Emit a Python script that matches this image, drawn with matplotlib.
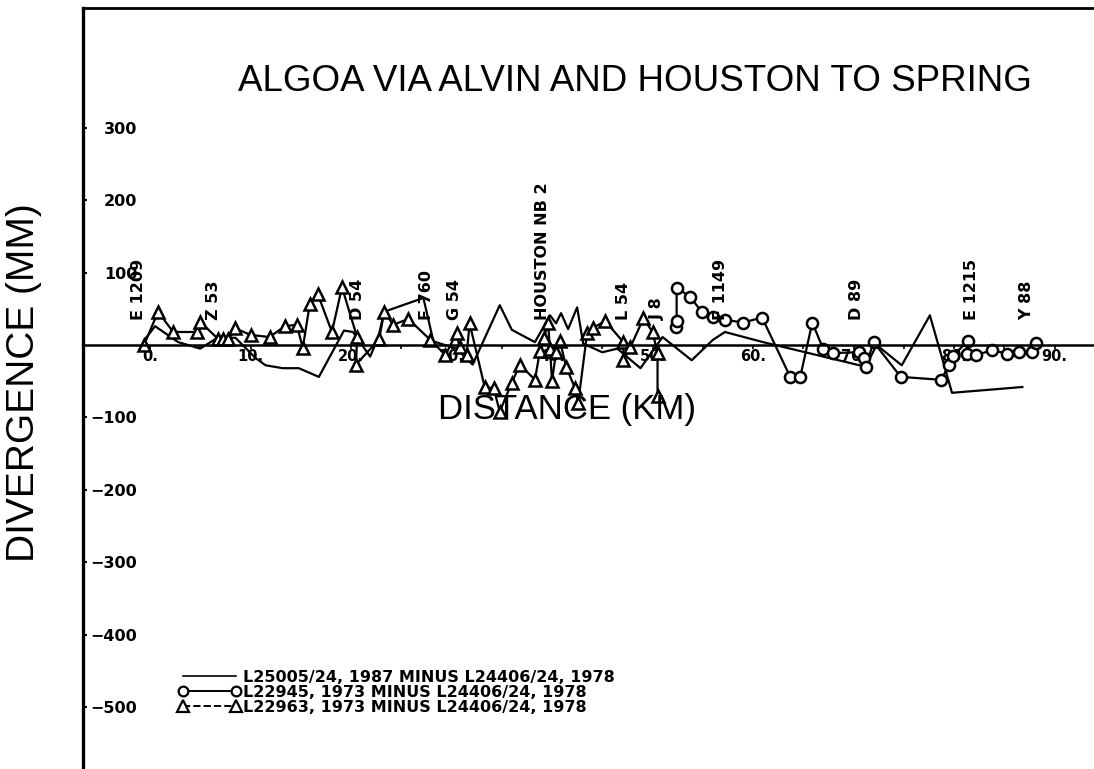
import matplotlib
matplotlib.use("Agg")
import matplotlib.pyplot as plt
from matplotlib.lines import Line2D

# L25005/24, 1987 minus L24406/24, 1978 (plain line)
line_km = [-0.5, 0.5, 2.8, 5.0, 6.7, 8.5, 10.5, 11.5, 13.2, 14.8, 16.8, 19.3, 20.2,
           21.9, 22.7, 23.3, 27.2, 28.2, 30.5, 32.1, 34.8, 36.0, 38.3, 39.8, 40.4,
           40.9, 41.6, 42.5, 43.1, 45.0, 46.5, 48.8, 51.0, 53.9, 56.0, 57.2, 61.0,
           71.2, 72.3, 74.8, 77.6, 79.8, 86.8]
line_mm = [8, 26, 4, -5, 10, 10, -18, -28, -32, -32, -44, 20, 18,
           -16, 10, 46, 65, 5, -5, -27, 55, 21, 4, 41, 30,
           44, 22, 52, 2, -10, -5, -32, 11, -21, 7, 18, 4,
           -30, 0, -28, 41, -66, -58]

# L22945, 1973 minus L24406/24, 1978 (circles)
circ_km = [52.3, 52.4, 52.4, 53.7, 54.9, 56.0, 57.2, 59.0, 60.9, 63.7, 64.7, 65.9,
           67.0, 68.0, 70.5, 71.0, 71.2, 72.0, 74.7, 78.7, 79.5, 79.9, 81.4, 81.3,
           82.2, 83.8, 85.3, 86.5, 87.8, 88.2]
circ_mm = [25, 33, 79, 67, 46, 39, 35, 31, 38, -44, -44, 31,
           -6, -11, -10, -18, -30, 4, -44, -48, -28, -15, 6, -13,
           -14, -7, -12, -10, -10, 3]

# L22963, 1973 minus L24406/24, 1978 (triangles)
tri_km = [-0.6, 0.8, 2.3, 4.7, 5.0, 6.8, 7.3, 7.8, 8.5, 10.0, 11.9, 13.4, 14.6,
          15.2, 15.9, 16.7, 18.1, 19.1, 20.6, 20.5, 22.8, 23.3, 24.2, 25.7, 27.9,
          29.4, 30.5, 30.8, 31.5, 31.8, 33.3, 34.2, 34.8, 36.0, 36.8, 38.3, 38.8,
          39.2, 39.6, 39.8, 40.0, 40.4, 40.8, 41.4, 42.3, 42.6, 43.5, 44.1, 45.3,
          47.1, 47.1, 47.8, 49.1, 50.0, 50.5, 50.5]
tri_mm = [0, 46, 18, 18, 32, 8, 8, 8, 23, 14, 11, 26, 28,
          -4, 57, 70, 18, 80, 11, -27, 8, 46, 28, 36, 7,
          -14, 17, -3, -14, 30, -58, -60, -92, -52, -27, -48, -8,
          10, 30, -5, -50, -10, 5, -30, -60, -80, 17, 24, 33,
          4, -21, -3, 37, 18, -11, -70]

station_names = ["E 1209", "Z 53", "D 54", "F 760", "G 54", "HOUSTON NB 2", "L 54",
                 "J 8", "F 1149", "D 89", "E 1215", "Y 88"]
station_km = [-1.1, 6.3, 20.6, 27.5, 30.3, 39.1, 47.1, 50.5, 56.8, 70.3, 81.7, 87.2]

x_ticks = [0, 10, 20, 30, 40, 50, 60, 70, 80, 90]
x_tick_labels = ["0.", "10.", "20.", "30.", "40.", "50.", "60.", "70.", "80.", "90."]
y_ticks = [300, 200, 100, -100, -200, -300, -400, -500]

legend_labels = ["L25005/24, 1987 MINUS L24406/24, 1978",
                 "L22945, 1973 MINUS L24406/24, 1978",
                 "L22963, 1973 MINUS L24406/24, 1978"]

plt.rcParams['font.family'] = ['Liberation Sans', 'DejaVu Sans']
bold = {'family': 'DejaVu Sans', 'weight': 'bold'}

fig = plt.figure(figsize=(10.94, 7.69), dpi=100)
ax = fig.add_axes([83 / 1094, 0.0, 1 - 83 / 1094, 1 - 8 / 769])
ax.set_xlim(-6.67, 93.93)
ax.set_ylim(-585.6, 465.5)

ax.plot(line_km, line_mm, color='black', lw=1.6)
ax.plot(circ_km, circ_mm, color='black', lw=1.6, marker='o', ms=8,
        mfc='white', mec='black', mew=1.8)
ax.plot(tri_km, tri_mm, color='black', lw=1.6, marker='^', ms=9,
        mfc='white', mec='black', mew=1.8)

ax.spines['right'].set_visible(False)
ax.spines['bottom'].set_position(('data', 0))
ax.spines['bottom'].set_linewidth(1.8)
ax.spines['left'].set_linewidth(2.4)
ax.spines['top'].set_linewidth(2.0)

ax.set_xticks(x_ticks)
ax.set_xticklabels(x_tick_labels, fontsize=10.5, **bold)
ax.set_xticks([5 + 10 * i for i in range(9)], minor=True)
ax.tick_params(axis='x', which='both', direction='out', length=3, width=1.2, pad=0)

ax.set_yticks(y_ticks)
ax.set_yticklabels([str(v).replace('-', '\u2212') for v in y_ticks],
                   fontsize=11.5, **bold)
ax.tick_params(axis='y', direction='in', length=3, width=1.5, pad=-39)

for name, km in zip(station_names, station_km):
    ax.text(km, 35, name, rotation=90, ha='center', va='bottom',
            fontsize=11.5, **bold)

ax.text(0.546, 0.904, "ALGOA VIA ALVIN AND HOUSTON TO SPRING", transform=ax.transAxes,
        ha='center', va='center', fontsize=26.5)
ax.text(0.479, 0.472, "DISTANCE (KM)", transform=ax.transAxes,
        ha='center', va='center', fontsize=25)
fig.text(24 / 1094, 1 - 383 / 769, "DIVERGENCE (MM)", rotation=90,
         ha='center', va='center', fontsize=28)

handles = [Line2D([], [], color='black', lw=1.2),
           Line2D([], [], color='black', lw=1.4, marker='o', ms=7, mfc='white', mew=1.6),
           Line2D([], [], color='black', lw=1.4, ls='--', marker='^', ms=8,
                  mfc='white', mew=1.6)]
ax.legend(handles, legend_labels, loc='lower left', bbox_to_anchor=(0.094, 0.071),
          frameon=False, numpoints=2, handlelength=3.9, handletextpad=0.15,
          labelspacing=0.0, borderpad=0, borderaxespad=0,
          prop={'family': 'DejaVu Sans', 'size': 11.5, 'weight': 'bold'})

fig.savefig("out.png", dpi=100)
